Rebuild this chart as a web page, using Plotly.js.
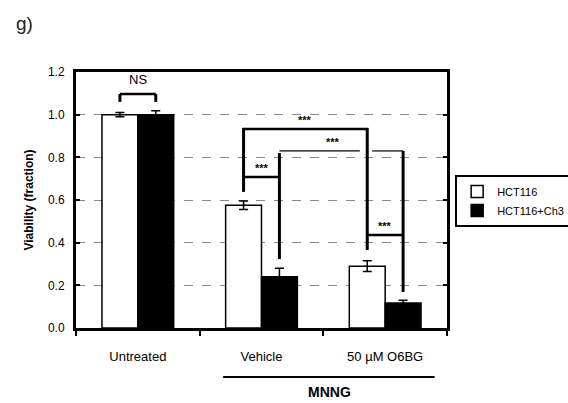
<!DOCTYPE html>
<html>
<head>
<meta charset="utf-8">
<script src="https://cdn.plot.ly/plotly-3.0.1.min.js"></script>
<style>html,body{margin:0;padding:0;background:#fff;}#chart{width:568px;height:403px;}</style>
</head>
<body>
<div id="chart"></div>
<script>
// ---- data ----
var categories = ["Untreated", "Vehicle", "50 \u00b5M O6BG"];
var seriesNames = ["HCT116", "HCT116+Ch3"];
var hct116 = [1.00, 0.575, 0.29];
var hct116Err = [0.01, 0.02, 0.025];
var hct116ch3 = [1.00, 0.24, 0.117];
var hct116ch3Err = [0.018, 0.04, 0.013];
var yTicks = [0, 0.2, 0.4, 0.6, 0.8, 1.0, 1.2];

// ---- layout helpers ----
var FONT = "Arial, 'Liberation Sans', sans-serif";
var bargap = 0.42;
var barW = (1 - bargap) / 2;
function cx(cat, s) { return cat + (s === 0 ? -barW / 2 : barW / 2); }

var traces = [
  {type: "bar", name: seriesNames[0], x: categories, y: hct116,
   marker: {color: "#ffffff", line: {color: "#000", width: 1.5}},
   error_y: {type: "data", array: hct116Err, visible: true, color: "#000", thickness: 1.5, width: 4.5}},
  {type: "bar", name: seriesNames[1], x: categories, y: hct116ch3,
   marker: {color: "#000000", line: {color: "#000", width: 1.5}},
   error_y: {type: "data", array: hct116ch3Err, visible: true, color: "#000", thickness: 1.5, width: 4.5}}
];

function seg(x0, y0, x1, y1, w) {
  return {type: "line", xref: "x", yref: "y", x0: x0, y0: y0, x1: x1, y1: y1,
          line: {color: "#000", width: w}};
}

// bracket levels (annotation geometry)
var bigY = 0.933, secY = 0.83, vehY = 0.708, o6Y = 0.436, nsY = 1.097;
var shapes = [
  // NS bracket
  seg(cx(0,0), nsY, cx(0,1), nsY, 2.5),
  seg(cx(0,0), nsY, cx(0,0), 1.06, 3),
  seg(cx(0,1), nsY, cx(0,1), 1.06, 3),
  // big bracket
  seg(cx(1,0), bigY, cx(2,0), bigY, 2.5),
  seg(cx(1,0), bigY + 0.005, cx(1,0), 0.638, 3),
  seg(cx(2,0), bigY + 0.005, cx(2,0), 0.366, 3),
  // second bracket
  seg(cx(1,1), secY, cx(2,0) - 0.06, secY, 1.2),
  seg(cx(2,0) + 0.04, secY, cx(2,1), secY, 1.2),
  seg(cx(1,1), secY - 0.01, cx(1,1), 0.323, 3),
  seg(cx(2,1), secY, cx(2,1), 0.169, 3),
  // small brackets
  seg(cx(1,0), vehY, cx(1,1), vehY, 2.5),
  seg(cx(2,0), o6Y, cx(2,1), o6Y, 2.5),
  // MNNG underline
  {type: "line", xref: "x", yref: "paper", x0: 0.69, x1: 2.40, y0: -0.191, y1: -0.191,
   line: {color: "#000", width: 2}}
];

function stars(x, y) {
  return {xref: "x", yref: "y", x: x, y: y, text: "<b>***</b>", showarrow: false,
          yanchor: "bottom", yshift: 1, font: {family: FONT, size: 11, color: "#000"}};
}
var annotations = [
  {xref: "x", yref: "y", x: 0, y: 1.12, text: "NS", showarrow: false, yanchor: "bottom",
   font: {family: FONT, size: 13, color: "#000"}},
  stars((cx(1,0) + cx(2,0)) / 2, bigY),
  stars(1.58, secY),
  stars((cx(1,0) + cx(1,1)) / 2, vehY),
  stars((cx(2,0) + cx(2,1)) / 2, o6Y),
  {xref: "x", yref: "paper", x: 1.55, y: -0.25, text: "<b>MNNG</b>", showarrow: false,
   yanchor: "middle", font: {family: FONT, size: 14, color: "#000"}},
  {xref: "paper", yref: "paper", x: -0.167, y: 1.19, text: "g)", showarrow: false,
   xanchor: "left", yanchor: "middle", font: {family: FONT, size: 19, color: "#222"}}
];

var layout = {
  width: 568, height: 403,
  margin: {l: 76, r: 121, t: 72, b: 75, autoexpand: false},
  paper_bgcolor: "#fff", plot_bgcolor: "#fff",
  barmode: "group", bargap: bargap, bargroupgap: 0,
  showlegend: true,
  legend: {x: 1.022, y: 0.598, xanchor: "left", yanchor: "top",
           bordercolor: "#000", borderwidth: 2, bgcolor: "#fff", itemwidth: 30,
           font: {family: FONT, size: 11, color: "#000"}, tracegroupgap: 4},
  xaxis: {type: "category", range: [-0.5, 2.5], showline: true, linewidth: 3, linecolor: "#000",
          mirror: true, ticks: "outside", tickson: "boundaries", ticklen: 5, tickwidth: 2,
          tickcolor: "#000", ticklabelstandoff: 14, showgrid: false, zeroline: false,
          tickfont: {family: FONT, size: 13, color: "#000"}},
  yaxis: {range: [0, 1.2], tickvals: yTicks, tickformat: ".1f", showline: true, linewidth: 3,
          linecolor: "#000", mirror: "ticks", ticks: "inside", ticklen: 4, tickwidth: 2,
          tickcolor: "#000", showgrid: true, gridcolor: "#8a8a8a", gridwidth: 1, griddash: "dash",
          zeroline: false, ticklabelstandoff: 6,
          tickfont: {family: FONT, size: 12, color: "#000"},
          title: {text: "<b>Viability (fraction)</b>", standoff: 12,
                  font: {family: FONT, size: 12, color: "#000"}}},
  shapes: shapes,
  annotations: annotations
};

Plotly.newPlot("chart", traces, layout, {staticPlot: true});
</script>
</body>
</html>
